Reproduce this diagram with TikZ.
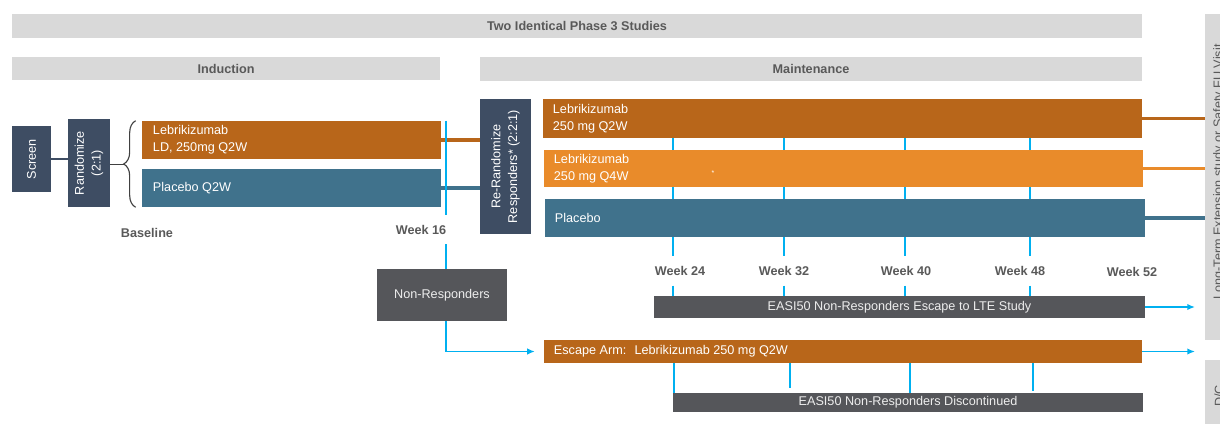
\documentclass[tikz,border=0pt]{standalone}
\usepackage{fontspec}
\setmainfont{Liberation Sans}
\usepackage{tikz}
\usetikzlibrary{positioning,arrows.meta,decorations.pathreplacing}
\definecolor{bannergray}{HTML}{D9D9D9}
\definecolor{labelgray}{HTML}{595959}
\definecolor{slate}{HTML}{3E4D63}
\definecolor{armorange}{HTML}{B8661A}
\definecolor{armlight}{HTML}{E98B2A}
\definecolor{armteal}{HTML}{40728C}
\definecolor{nrgray}{HTML}{55565A}
\definecolor{tickblue}{HTML}{00B0F0}
\newcommand{\diagfont}{\fontsize{9}{12}\selectfont}
\tikzset{
  banner/.style={fill=bannergray, text=labelgray, font=\diagfont\bfseries, inner sep=0pt},
  slatebox/.style={fill=slate, inner sep=0pt},
  vtext/.style={rotate=90, text=white, align=center, inner sep=0pt},
  armbox/.style={fill=armorange, inner sep=0pt},
  armbox2/.style={fill=armlight, inner sep=0pt},
  armbox3/.style={fill=armteal, inner sep=0pt},
  armtext/.style={text=white, align=left, inner sep=0pt},
  graybox/.style={fill=nrgray, text=white!93!black, align=center, inner sep=0pt},
  sidebox/.style={fill=bannergray, inner sep=0pt},
  sidetext/.style={rotate=90, text=labelgray, inner sep=0pt},
  weeklabel/.style={text=labelgray, font=\diagfont\bfseries, inner xsep=0pt, inner ysep=0.24cm},
  tickline/.style={draw=tickblue, line width=1.4pt},
  flowarrow/.style={tickline, -{Latex[length=1.9mm, width=1.6mm]}},
  armline/.style={line width=2.2pt}
}

\begin{document}
\begin{tikzpicture}[x=0.025cm, y=-0.025cm, every node/.style={font=\diagfont}]
  \useasboundingbox (0,0) rectangle (1220,423);
  \clip (0,0) rectangle (1220,423);

  % banners
  \node[banner, minimum width=28.25cm, minimum height=0.6cm] (title) at (577,26) {Two Identical Phase 3 Studies};
  \node[banner, minimum width=10.7cm, minimum height=0.575cm] (induct) at (226,68.5) {Induction};
  \node[banner, minimum width=16.55cm, minimum height=0.6cm] (maint) at (811,69) {Maintenance};

  % screening and induction
  \node[slatebox, minimum width=0.975cm, minimum height=1.65cm] (screen) at (31.5,159) {};
  \node[vtext] (screentxt) at (screen) {Screen};
  \node[slatebox, minimum width=1.05cm, minimum height=2.2cm] (rand) at (89,163) {};
  \node[vtext] (randtxt) at (rand) {Randomize\\(2:1)};
  \node[armbox, minimum width=7.475cm, minimum height=0.95cm] (lebind) at (291.5,140) {};
  \node[armtext, right=0.275cm of lebind.west] (lebindtxt) {Lebrikizumab\\LD, 250mg Q2W};
  \node[armbox3, minimum width=7.475cm, minimum height=0.95cm] (plind) at (291.5,188) {};
  \node[armtext, right=0.275cm of plind.west] (plindtxt) {Placebo Q2W};
  \coordinate (bracetip) at (124,164.5);
  \draw[slate, line width=0.8pt] (screen.east) -- (rand.west |- screen.east);
  \draw[black!75, line width=0.8pt] (rand.east |- bracetip) -- (bracetip);
  \draw[black!75, line width=0.8pt, decorate, decoration={brace, amplitude=0.3cm}]
    ([xshift=-0.15cm]plind.south west) -- ([xshift=-0.15cm]lebind.north west);
  \node[weeklabel] (lbase) at (147,233) {Baseline};
  \node[weeklabel] (lw16) at (421,229.5) {Week 16};

  % re-randomization and maintenance arms
  \node[slatebox, minimum width=1.275cm, minimum height=3.375cm] (rerand) at (505.5,166.5) {};
  \node[vtext] (rerandtxt) at (rerand) {Re-Randomize\\Responders* (2:2:1)};
  \node[armbox, minimum width=14.975cm, minimum height=0.975cm] (lebq2) at (842.5,118.5) {};
  \node[armtext, right=0.25cm of lebq2.west] (lebq2txt) {Lebrikizumab\\250 mg Q2W};
  \node[armbox2, minimum width=14.975cm, minimum height=0.925cm] (lebq4) at (843.5,168.5) {};
  \node[armtext, right=0.25cm of lebq4.west] (lebq4txt) {Lebrikizumab\\250 mg Q4W};
  \node[armtext, font=\tiny] (star) at (713,173) {*};
  \node[armbox3, minimum width=15cm, minimum height=0.95cm] (plmaint) at (845,218) {};
  \node[armtext, right=0.25cm of plmaint.west] (plmainttxt) {Placebo};

  % outcome boxes on the right
  \node[sidebox, minimum width=1cm, minimum height=8.15cm] (ltebox) at (1225,177) {};
  \node[sidetext] (ltetxt) at (1219,172) {Long-Term Extension study or Safety FU Visit};
  \node[sidebox, minimum width=1cm, minimum height=1.75cm] (dcbox) at (1225,395) {};
  \node[sidetext] (dctxt) at (1219,396) {D/C};

  % week labels
  \node[weeklabel] (lw24) at (680,271) {Week 24};
  \node[weeklabel] (lw32) at (784,271) {Week 32};
  \node[weeklabel] (lw40) at (906,271) {Week 40};
  \node[weeklabel] (lw48) at (1020,271) {Week 48};
  \node[weeklabel] (lw52) at (1132,272) {Week 52};

  % non-responders
  \node[graybox, minimum width=3.25cm, minimum height=1.3cm] (nonresp) at (442,295) {Non-Responders};
  \node[graybox, minimum width=12.275cm, minimum height=0.55cm] (lte) at (899.5,307) {EASI50 Non-Responders Escape to LTE Study};
  \node[armbox, minimum width=14.95cm, minimum height=0.575cm] (escape) at (843,351.5) {};
  \node[armtext, right=0.25cm of escape.west] (escapetxt) {Escape Arm:~ Lebrikizumab 250 mg Q2W};
  \node[graybox, minimum width=11.75cm, minimum height=0.475cm] (disc) at (908,402.5) {EASI50 Non-Responders Discontinued};

  % week tick positions
  \coordinate (w16) at (446,0);
  \coordinate (w24) at (673,0);
  \coordinate (w32) at (784,0);
  \coordinate (w40) at (905,0);
  \coordinate (w48) at (1030,0);
  \coordinate (e24) at (674,0);
  \coordinate (e32) at (790,0);
  \coordinate (e40) at (910,0);
  \coordinate (e48) at (1033,0);
  \coordinate (e32end) at (790,388);
  \coordinate (e48end) at (1033,391);
  \coordinate (lteend) at (1195,307);
  \coordinate (escend) at (1195,351.5);

  % connectors
  \draw[armline, armorange] (lebind.east) -- (lebind.east -| rerand.west);
  \draw[armline, armteal] (plind.east) -- (plind.east -| rerand.west);
  \draw[tickline] (lebind.north -| w16) -- (lw16.north -| w16)
    (lw16.south -| w16) -- (nonresp.north -| w16);
  \draw[flowarrow, shorten >=0.22cm] (nonresp.south -| w16) |- (escape.west);
  \draw[armline, armorange] (lebq2.east) -- (lebq2.east -| ltebox.west);
  \draw[armline, armlight] (lebq4.east) -- (lebq4.east -| ltebox.west);
  \draw[armline, armteal] (plmaint.east) -- (plmaint.east -| ltebox.west);

  \draw[tickline] (lebq2.south -| w24) -- (lebq4.north -| w24) (lebq4.south -| w24) -- (plmaint.north -| w24)
    (plmaint.south -| w24) -- (lw24.north -| w24) (lw24.south -| w24) -- (lte.north -| w24);
  \draw[tickline] (lebq2.south -| w32) -- (lebq4.north -| w32) (lebq4.south -| w32) -- (plmaint.north -| w32)
    (plmaint.south -| w32) -- (lw32.north -| w32) (lw32.south -| w32) -- (lte.north -| w32);
  \draw[tickline] (lebq2.south -| w40) -- (lebq4.north -| w40) (lebq4.south -| w40) -- (plmaint.north -| w40)
    (plmaint.south -| w40) -- (lw40.north -| w40) (lw40.south -| w40) -- (lte.north -| w40);
  \draw[tickline] (lebq2.south -| w48) -- (lebq4.north -| w48) (lebq4.south -| w48) -- (plmaint.north -| w48)
    (plmaint.south -| w48) -- (lw48.north -| w48) (lw48.south -| w48) -- (lte.north -| w48);

  \draw[tickline] (escape.south -| e24) -- (disc.north -| e24);
  \draw[tickline] (escape.south -| e32) -- (e32end);
  \draw[tickline] (escape.south -| e40) -- (disc.north -| e40);
  \draw[tickline] (escape.south -| e48) -- (e48end);

  \draw[flowarrow] (lte.east) -- (lteend);
  \draw[flowarrow] (escape.east) -- (escend);
\end{tikzpicture}
\end{document}
